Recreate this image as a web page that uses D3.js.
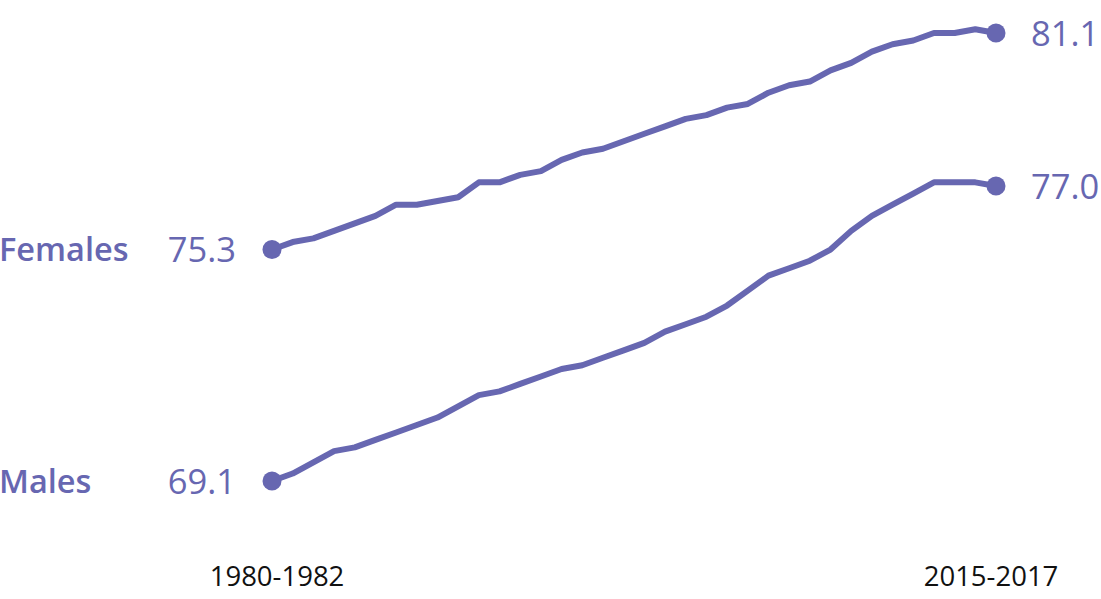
<!DOCTYPE html>
<html>
<head>
<meta charset="utf-8">
<script src="https://cdn.jsdelivr.net/npm/d3@7"></script>
<style>
  html, body { margin: 0; padding: 0; background: #fff; }
  svg { display: block; }
  text { font-family: "Open Sans", "Noto Sans", sans-serif; }
</style>
</head>
<body>
<svg id="chart" width="1101" height="599"></svg>
<script>
const periods = ["1980-1982","1981-1983","1982-1984","1983-1985","1984-1986","1985-1987","1986-1988","1987-1989","1988-1990","1989-1991","1990-1992","1991-1993","1992-1994","1993-1995","1994-1996","1995-1997","1996-1998","1997-1999","1998-2000","1999-2001","2000-2002","2001-2003","2002-2004","2003-2005","2004-2006","2005-2007","2006-2008","2007-2009","2008-2010","2009-2011","2010-2012","2011-2013","2012-2014","2013-2015","2014-2016","2015-2017"];
const females = [75.3,75.5,75.6,75.8,76.0,76.2,76.5,76.5,76.6,76.7,77.1,77.1,77.3,77.4,77.7,77.9,78.0,78.2,78.4,78.6,78.8,78.9,79.1,79.2,79.5,79.7,79.8,80.1,80.3,80.6,80.8,80.9,81.1,81.1,81.2,81.1];
const males = [69.1,69.3,69.6,69.9,70.0,70.2,70.4,70.6,70.8,71.1,71.4,71.5,71.7,71.9,72.1,72.2,72.4,72.6,72.8,73.1,73.3,73.5,73.8,74.2,74.6,74.8,75.0,75.3,75.8,76.2,76.5,76.8,77.1,77.1,77.1,77.0];
const seriesNames = ["Females", "Males"];
const tickLabels = ["1980-1982", "2015-2017"];

const color = "#6767b1";
const svg = d3.select("#chart");

const x = d3.scalePoint().domain(periods).range([272, 996]);
const y = d3.scaleLinear().domain([69.1, 81.1]).range([481, 33]);

const series = [
  { name: seriesNames[0], values: females },
  { name: seriesNames[1], values: males }
];

const line = d3.line()
  .x((d, i) => x(periods[i]))
  .y(d => y(d));

const g = svg.selectAll("g.series").data(series).join("g").attr("class", "series");

g.append("path")
  .attr("d", d => line(d.values))
  .attr("fill", "none")
  .attr("stroke", color)
  .attr("stroke-width", 6)
  .attr("stroke-linejoin", "round")
  .attr("stroke-linecap", "round");

g.append("circle")
  .attr("cx", x(periods[0]))
  .attr("cy", d => y(d.values[0]))
  .attr("r", 9.5)
  .attr("fill", color);

g.append("circle")
  .attr("cx", x(periods[periods.length - 1]))
  .attr("cy", d => y(d.values[d.values.length - 1]))
  .attr("r", 9.5)
  .attr("fill", color);

// start values
g.append("text")
  .attr("x", x(periods[0]) - 36)
  .attr("y", d => y(d.values[0]))
  .attr("dy", "0.37em")
  .attr("text-anchor", "end")
  .attr("fill", color)
  .attr("font-size", 34.5)
  .text(d => d3.format(".1f")(d.values[0]));

// end values
g.append("text")
  .attr("x", x(periods[periods.length - 1]) + 35)
  .attr("y", d => y(d.values[d.values.length - 1]))
  .attr("dy", "0.37em")
  .attr("text-anchor", "start")
  .attr("fill", color)
  .attr("font-size", 34.5)
  .text(d => d3.format(".1f")(d.values[d.values.length - 1]));

// series names
g.append("text")
  .attr("x", -1)
  .attr("y", d => y(d.values[0]))
  .attr("dy", "0.36em")
  .attr("text-anchor", "start")
  .attr("fill", color)
  .attr("font-size", 32.5)
  .attr("font-weight", 600)
  .text(d => d.name);

// x axis
const axis = d3.axisBottom(x)
  .tickValues(tickLabels)
  .tickSize(0)
  .tickPadding(0);
const ax = svg.append("g")
  .attr("transform", "translate(0,566)")
  .call(axis);
ax.select(".domain").remove();
ax.selectAll("text")
  .attr("font-size", 27.5)
  .attr("fill", "#111")
  .attr("font-family", "'Open Sans', sans-serif")
  .attr("dx", (d, i) => i === 0 ? 4.5 : -5.5);
</script>
</body>
</html>
